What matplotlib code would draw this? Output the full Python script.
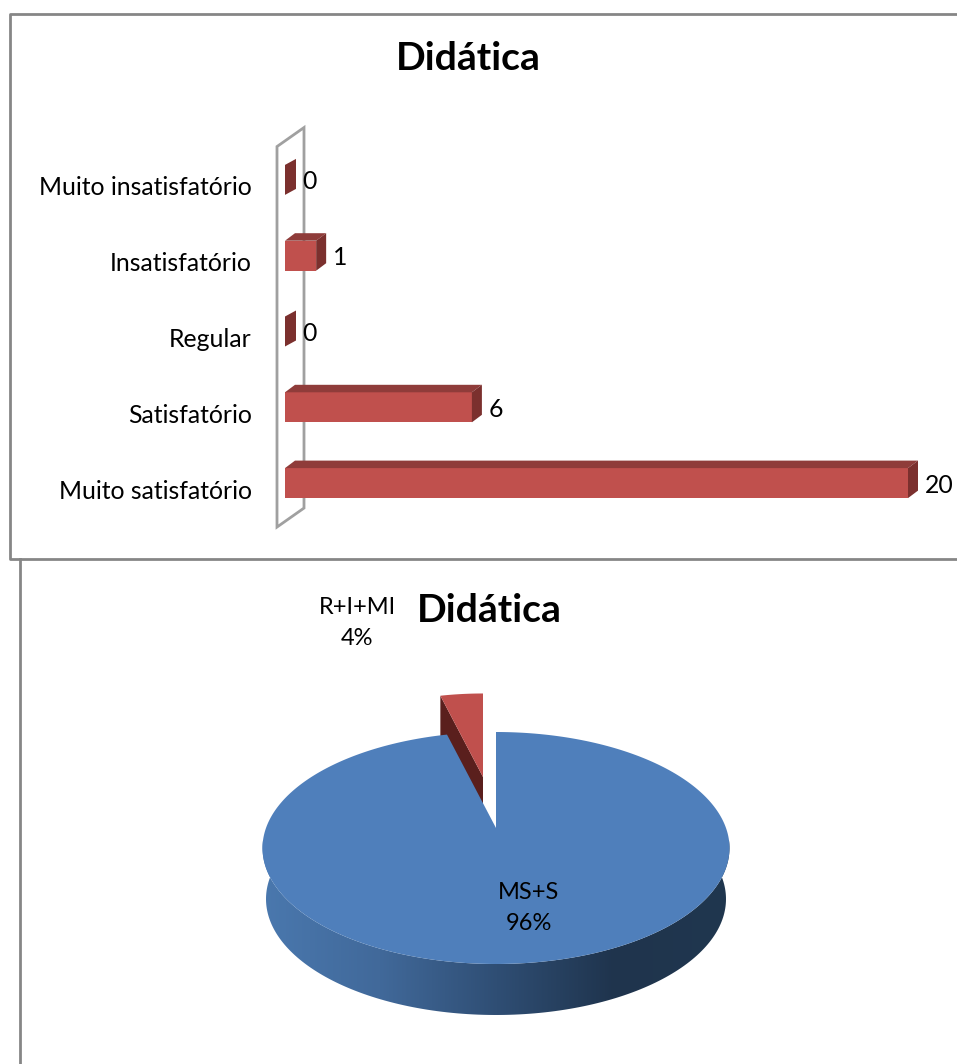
import numpy as np
import matplotlib
matplotlib.use('Agg')
from matplotlib import pyplot as plt
from matplotlib.patches import Polygon
from matplotlib.transforms import ScaledTranslation

plt.rcParams['font.family'] = ['Lato', 'DejaVu Sans']

bar_labels = ['Muito satisfatório', 'Satisfatório', 'Regular', 'Insatisfatório', 'Muito insatisfatório']
bar_values = [20, 6, 0, 1, 0]
pie_labels = ['MS+S', 'R+I+MI']
pie_values = [96, 4]
title = 'Didática'

W, H = 957, 1064
FRONT = '#C0504D'
TOP = '#8F3C3A'
SIDE = '#7B302E'
BORDER = '#868686'
WALL = '#A0A0A0'


def px_axes(fig, left, top, right, bottom):
    return fig.add_axes([left / W, 1 - bottom / H, (right - left) / W, (bottom - top) / H])


def plot_bars(fig):
    # x=0 at 285px and x=20 at 908px, categories 75.75px apart
    ax = px_axes(fig, 285, 142, 908, 521)
    ax.set_xlim(0, 20)
    ax.set_ylim(-0.5, 4.5)
    ax.patch.set_alpha(0)
    for s in ax.spines.values():
        s.set_visible(False)
    ax.set_xticks([])
    ax.set_yticks(range(len(bar_labels)))
    ax.set_yticklabels(bar_labels, fontsize=17.8)
    ax.tick_params(axis='y', length=0, pad=24)
    # category labels sit a little below the bars
    shift = ScaledTranslation(0, -6 / 100, fig.dpi_scale_trans)
    for lab in ax.get_yticklabels():
        lab.set_transform(lab.get_transform() + shift)

    px_x = 20 / 623
    px_y = 5 / 379
    dx, dy = 10 * px_x, 7.5 * px_y
    h = 30 * px_y

    # back wall of the 3d box
    wall_x0 = -8 * px_x
    wall_y0, wall_y1 = -0.58, 4.44
    ax.add_patch(Polygon([(wall_x0, wall_y0), (wall_x0, wall_y1),
                          (wall_x0 + 27 * px_x, wall_y1 + 19 * px_y),
                          (wall_x0 + 27 * px_x, wall_y0 + 19 * px_y)],
                         closed=True, fill=False, ec=WALL, lw=2, clip_on=False))

    for i, v in enumerate(bar_values):
        y0, y1 = i - h / 2, i + h / 2
        if v == 0:
            ax.add_patch(Polygon([(0, y0), (0, y1), (11 * px_x, y1 + 6 * px_y), (11 * px_x, y0 + 6 * px_y)],
                                 closed=True, fc=SIDE, ec='none', clip_on=False))
        else:
            ax.barh(i, v, height=h, color=FRONT, zorder=3)
            ax.add_patch(Polygon([(0, y1), (dx, y1 + dy), (v + dx, y1 + dy), (v, y1)],
                                 closed=True, fc=TOP, ec='none', clip_on=False, zorder=3))
            ax.add_patch(Polygon([(v, y0), (v, y1), (v + dx, y1 + dy), (v + dx, y0 + dy)],
                                 closed=True, fc=SIDE, ec='none', clip_on=False, zorder=3))
        ax.annotate(str(v), (v, i), xytext=(17, -2), textcoords='offset pixels',
                    ha='left', va='center', fontsize=17.8, color='black', annotation_clip=False)


def project(frac, scale=1.0):
    # pie fraction (clockwise from 12 o'clock) to offset on the tilted disc
    t = 2 * np.pi * np.asarray(frac)
    u, v = np.sin(t), np.cos(t)
    k = 0.1724
    x = 230 * u / (1 + k * v)
    y = (30.2 * v + 828) / (1 + k * v) - 828
    return scale * x, scale * y


def plot_pie(ax):
    cx, cy = 496, 828
    depth = 51
    share = pie_values[0] / sum(pie_values)

    # side of the blue slice, shaded left to right
    f = np.linspace(0.2, 0.8, 200)
    x, y = project(f)
    rim = np.c_[cx + x, cy + y]
    low = np.c_[cx + x * 0.985, cy + y + depth]
    side = Polygon(np.r_[rim, low[::-1]], closed=True, fc='none', ec='none')
    ax.add_patch(side)
    grad = matplotlib.colors.LinearSegmentedColormap.from_list(
        'side', ['#4A78AE', '#41699A', '#2F4E74', '#1F344D', '#20374F'])
    im = ax.imshow(np.linspace(0, 1, 256)[None, :], cmap=grad, aspect='auto',
                   extent=(cx - 234, cx + 236, 1020, 840), zorder=1)
    im.set_clip_path(side)

    # red slice, pulled out of the pie
    rx, ry = 483, 777
    f = np.linspace(share, 1, 40)
    x, y = project(f, 0.87)
    ax.add_patch(Polygon(np.c_[[rx, rx + x[0], rx + x[0], rx], [ry, ry + y[0], ry + 60, ry + 60]],
                         closed=True, fc='#5A1F1D', ec='none', zorder=2))
    ax.add_patch(Polygon(np.r_[[[rx, ry]], np.c_[rx + x, ry + y]], closed=True,
                         fc=FRONT, ec='none', zorder=2))

    # blue top face
    f = np.linspace(0, share, 400)
    x, y = project(f)
    ax.add_patch(Polygon(np.r_[[[cx, cy]], np.c_[cx + x, cy + y]], closed=True,
                         fc='#4F7FBB', ec='none', zorder=3))

    ax.text(529, 908, '%s\n%d%%' % (pie_labels[0], pie_values[0]), ha='center', va='center',
            fontsize=17, linespacing=1.6, zorder=5)
    ax.text(357, 623, '%s\n%d%%' % (pie_labels[1], pie_values[1]), ha='center', va='center',
            fontsize=17, linespacing=1.6, zorder=5)
    ax.text(489, 610, title, ha='center', va='center', fontsize=28.2, fontweight='bold', zorder=5)


def main():
    fig = plt.figure(figsize=(W / 100, H / 100), dpi=100, facecolor='white')

    # page layer in pixel units for frames and the pie
    page = fig.add_axes([0, 0, 1, 1])
    page.axis('off')
    page.plot([957, 10, 10, 957], [14, 14, 559, 559], color=BORDER, lw=2)
    page.plot([20, 20], [559, 1064], color=BORDER, lw=2)
    page.text(468, 59, title, ha='center', va='center', fontsize=28.2, fontweight='bold')
    plot_pie(page)
    page.set_xlim(0, W)
    page.set_ylim(H, 0)

    plot_bars(fig)
    fig.savefig('out.png', dpi=100)


if __name__ == "__main__":
    main()
